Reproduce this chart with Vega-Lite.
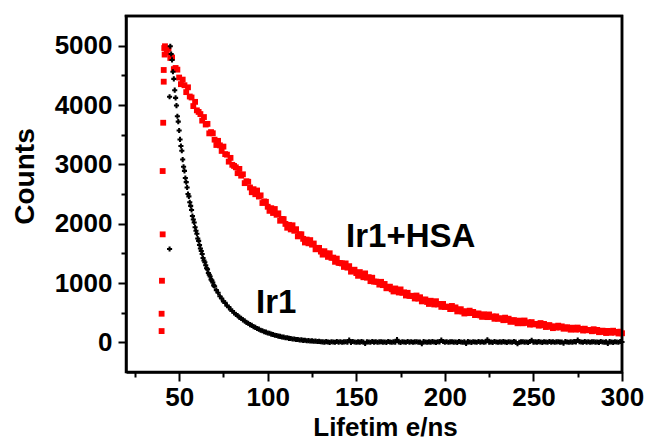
{
  "$schema": "https://vega.github.io/schema/vega-lite/v6.json",
  "autosize": {"type": "none"},
  "width": 496,
  "height": 356,
  "padding": {"left": 126, "top": 16, "right": 27, "bottom": 69},
  "background": "white",
  "config": {
    "view": {"stroke": "black", "strokeWidth": 2.5},
    "font": "Liberation Sans",
    "axis": {
      "domainColor": "black", "domainWidth": 2.5,
      "tickColor": "black", "tickWidth": 2,
      "labelFont": "Liberation Sans", "labelFontWeight": "bold", "labelFontSize": 26, "labelColor": "black",
      "titleFont": "Liberation Sans", "titleFontWeight": "bold", "titleColor": "black",
      "grid": false
    }
  },
  "datasets": {
    "hsa": [
      {"t":40.1,"c":190},{"t":40.1,"c":482},{"t":40.3,"c":1038},{"t":40.7,"c":1820},{"t":40.7,"c":2887},{"t":41,"c":3701},{"t":41.3,"c":4393},{"t":41.3,"c":4590},{"t":41.6,"c":4960},{"t":41.8,"c":4850},
      {"t":42,"c":4990},{"t":43,"c":4883},{"t":44,"c":4949},{"t":45,"c":4793},{"t":46,"c":4801},{"t":47,"c":4605},{"t":48,"c":4624},{"t":49,"c":4596},{"t":50,"c":4463},{"t":51,"c":4351},
      {"t":52,"c":4428},{"t":53,"c":4333},{"t":54,"c":4217},{"t":55,"c":4298},{"t":56,"c":4143},{"t":57,"c":4127},{"t":58,"c":3982},{"t":59,"c":4053},{"t":60,"c":3910},{"t":61,"c":3883},
      {"t":62,"c":3847},{"t":63,"c":3737},{"t":64,"c":3797},{"t":65,"c":3671},{"t":66,"c":3682},{"t":67,"c":3522},{"t":68,"c":3543},{"t":69,"c":3524},{"t":70,"c":3416},{"t":71,"c":3326},
      {"t":72,"c":3396},{"t":73,"c":3320},{"t":74,"c":3226},{"t":75,"c":3299},{"t":76,"c":3172},{"t":77,"c":3163},{"t":78,"c":3045},{"t":79,"c":3109},{"t":80,"c":2992},{"t":81,"c":2973},
      {"t":82,"c":2950},{"t":83,"c":2851},{"t":84,"c":2923},{"t":85,"c":2809},{"t":86,"c":2832},{"t":87,"c":2683},{"t":88,"c":2715},{"t":89,"c":2706},{"t":90,"c":2610},{"t":91,"c":2530},
      {"t":92,"c":2581},{"t":93,"c":2496},{"t":94,"c":2559},{"t":95,"c":2457},{"t":96,"c":2477},{"t":97,"c":2348},{"t":98,"c":2375},{"t":99,"c":2368},{"t":100,"c":2285},{"t":101,"c":2216},
      {"t":102,"c":2261},{"t":103,"c":2180},{"t":104,"c":2247},{"t":105,"c":2150},{"t":106,"c":2174},{"t":107,"c":2049},{"t":108,"c":2080},{"t":109,"c":2077},{"t":110,"c":1996},{"t":111,"c":1931},
      {"t":112,"c":1980},{"t":113,"c":1903},{"t":114,"c":1973},{"t":115,"c":1880},{"t":116,"c":1907},{"t":117,"c":1786},{"t":118,"c":1820},{"t":119,"c":1821},{"t":120,"c":1744},{"t":121,"c":1683},
      {"t":122,"c":1732},{"t":123,"c":1669},{"t":124,"c":1723},{"t":125,"c":1646},{"t":126,"c":1666},{"t":127,"c":1568},{"t":128,"c":1593},{"t":129,"c":1591},{"t":130,"c":1529},{"t":131,"c":1478},
      {"t":132,"c":1536},{"t":133,"c":1495},{"t":134,"c":1440},{"t":135,"c":1501},{"t":136,"c":1424},{"t":137,"c":1428},{"t":138,"c":1357},{"t":139,"c":1411},{"t":140,"c":1339},{"t":141,"c":1336},
      {"t":142,"c":1329},{"t":143,"c":1271},{"t":144,"c":1330},{"t":145,"c":1259},{"t":146,"c":1284},{"t":147,"c":1191},{"t":148,"c":1221},{"t":149,"c":1224},{"t":150,"c":1167},{"t":151,"c":1121},
      {"t":152,"c":1184},{"t":153,"c":1147},{"t":154,"c":1097},{"t":155,"c":1162},{"t":156,"c":1090},{"t":157,"c":1098},{"t":158,"c":1031},{"t":159,"c":1089},{"t":160,"c":1023},{"t":161,"c":1024},
      {"t":162,"c":1019},{"t":163,"c":973},{"t":164,"c":1020},{"t":165,"c":964},{"t":166,"c":984},{"t":167,"c":911},{"t":168,"c":935},{"t":169,"c":938},{"t":170,"c":893},{"t":171,"c":857},
      {"t":172,"c":908},{"t":173,"c":879},{"t":174,"c":840},{"t":175,"c":892},{"t":176,"c":835},{"t":177,"c":842},{"t":178,"c":789},{"t":179,"c":835},{"t":180,"c":783},{"t":181,"c":784},
      {"t":182,"c":782},{"t":183,"c":739},{"t":184,"c":789},{"t":185,"c":737},{"t":186,"c":760},{"t":187,"c":690},{"t":188,"c":717},{"t":189,"c":723},{"t":190,"c":680},{"t":191,"c":647},
      {"t":192,"c":701},{"t":193,"c":674},{"t":194,"c":638},{"t":195,"c":693},{"t":196,"c":639},{"t":197,"c":648},{"t":198,"c":598},{"t":199,"c":647},{"t":200,"c":596},{"t":201,"c":600},
      {"t":202,"c":601},{"t":203,"c":560},{"t":204,"c":613},{"t":205,"c":563},{"t":206,"c":589},{"t":207,"c":521},{"t":208,"c":550},{"t":209,"c":558},{"t":210,"c":517},{"t":211,"c":486},
      {"t":212,"c":525},{"t":213,"c":492},{"t":214,"c":534},{"t":215,"c":493},{"t":216,"c":513},{"t":217,"c":459},{"t":218,"c":481},{"t":219,"c":487},{"t":220,"c":454},{"t":221,"c":429},
      {"t":222,"c":473},{"t":223,"c":453},{"t":224,"c":425},{"t":225,"c":470},{"t":226,"c":428},{"t":227,"c":436},{"t":228,"c":397},{"t":229,"c":437},{"t":230,"c":398},{"t":231,"c":402},
      {"t":232,"c":404},{"t":233,"c":373},{"t":234,"c":416},{"t":235,"c":376},{"t":236,"c":398},{"t":237,"c":345},{"t":238,"c":368},{"t":239,"c":375},{"t":240,"c":345},{"t":241,"c":321},
      {"t":242,"c":366},{"t":243,"c":348},{"t":244,"c":321},{"t":245,"c":368},{"t":246,"c":327},{"t":247,"c":337},{"t":248,"c":299},{"t":249,"c":341},{"t":250,"c":302},{"t":251,"c":308},
      {"t":252,"c":311},{"t":253,"c":281},{"t":254,"c":325},{"t":255,"c":287},{"t":256,"c":310},{"t":257,"c":258},{"t":258,"c":282},{"t":259,"c":291},{"t":260,"c":261},{"t":261,"c":239},
      {"t":262,"c":271},{"t":263,"c":249},{"t":264,"c":281},{"t":265,"c":252},{"t":266,"c":269},{"t":267,"c":229},{"t":268,"c":248},{"t":269,"c":254},{"t":270,"c":230},{"t":271,"c":213},
      {"t":272,"c":247},{"t":273,"c":234},{"t":274,"c":214},{"t":275,"c":249},{"t":276,"c":219},{"t":277,"c":227},{"t":278,"c":199},{"t":279,"c":230},{"t":280,"c":203},{"t":281,"c":207},
      {"t":282,"c":209},{"t":283,"c":187},{"t":284,"c":221},{"t":285,"c":192},{"t":286,"c":209},{"t":287,"c":171},{"t":288,"c":190},{"t":289,"c":197},{"t":290,"c":174},{"t":291,"c":157},
      {"t":292,"c":192},{"t":293,"c":180},{"t":294,"c":161},{"t":295,"c":196},{"t":296,"c":167},{"t":297,"c":176},{"t":298,"c":149},{"t":299,"c":180},{"t":300,"c":153}
    ],
    "ir1": [
      {"t":44.6,"c":1572},{"t":44.6,"c":4140},
      {"t":45,"c":4990},{"t":45.5,"c":4860},{"t":46,"c":4760},{"t":46.5,"c":4560},{"t":47,"c":4440},{"t":47.5,"c":4250},{"t":48,"c":4120},{"t":48.5,"c":3990},{"t":49,"c":3810},{"t":49.5,"c":3720},
      {"t":50,"c":3570},{"t":50.5,"c":3420},{"t":51,"c":3310},{"t":51.5,"c":3230},{"t":52,"c":3080},{"t":52.5,"c":2960},{"t":53,"c":2890},{"t":53.5,"c":2770},{"t":54,"c":2700},{"t":54.5,"c":2610},
      {"t":55,"c":2500},{"t":55.5,"c":2460},{"t":56,"c":2360},{"t":56.5,"c":2300},{"t":57,"c":2230},{"t":57.5,"c":2130},{"t":58,"c":2070},{"t":58.5,"c":2020},{"t":59,"c":1940},{"t":59.5,"c":1880},
      {"t":60,"c":1830},{"t":60.5,"c":1750},{"t":61,"c":1710},{"t":61.5,"c":1640},{"t":62,"c":1580},{"t":62.5,"c":1540},{"t":63,"c":1490},{"t":63.5,"c":1420},{"t":64,"c":1380},{"t":64.5,"c":1350},
      {"t":65,"c":1300},{"t":65.5,"c":1250},{"t":66,"c":1230},{"t":66.5,"c":1170},{"t":67,"c":1140},{"t":67.5,"c":1110},{"t":68,"c":1060},{"t":68.5,"c":1040},{"t":69,"c":1010},{"t":69.5,"c":960},
      {"t":70,"c":945},{"t":71,"c":880},{"t":72,"c":835},{"t":73,"c":775},{"t":74,"c":740},{"t":75,"c":690},{"t":76,"c":665},{"t":77,"c":618},{"t":78,"c":595},{"t":79,"c":555},
      {"t":80,"c":528},{"t":81,"c":500},{"t":82,"c":470},{"t":83,"c":452},{"t":84,"c":420},{"t":85,"c":405},{"t":86,"c":378},{"t":87,"c":362},{"t":88,"c":335},{"t":89,"c":322},
      {"t":90,"c":298},{"t":91,"c":286},{"t":92,"c":262},{"t":93,"c":252},{"t":94,"c":233},{"t":95,"c":222},{"t":96,"c":203},{"t":97,"c":196},{"t":98,"c":178},{"t":99,"c":172},
      {"t":100,"c":158},{"t":101,"c":152},{"t":102,"c":138},{"t":103,"c":133},{"t":104,"c":120},{"t":105,"c":116},{"t":106,"c":104},{"t":107,"c":100},{"t":108,"c":90},{"t":109,"c":88},
      {"t":110,"c":78},{"t":111,"c":76},{"t":112,"c":66},{"t":113,"c":65},{"t":114,"c":56},{"t":115,"c":57},{"t":116,"c":48},{"t":117,"c":47},{"t":118,"c":40},{"t":119,"c":41},
      {"t":120,"c":33},{"t":121,"c":35},{"t":122,"c":27},{"t":123,"c":28},{"t":124,"c":22},{"t":125,"c":24},{"t":126,"c":17},{"t":127,"c":20},{"t":128,"c":14},{"t":129,"c":16},
      {"t":130,"c":11},{"t":131,"c":8},{"t":132,"c":3},{"t":133,"c":12},{"t":134,"c":5},{"t":135,"c":0},{"t":136,"c":10},{"t":137,"c":6},{"t":138,"c":2},{"t":139,"c":14},
      {"t":140,"c":4},{"t":141,"c":9},{"t":142,"c":1},{"t":143,"c":7},{"t":144,"c":11},{"t":145,"c":3},{"t":146,"c":40},{"t":147,"c":0},{"t":148,"c":13},{"t":149,"c":6},
      {"t":150,"c":2},{"t":151,"c":8},{"t":152,"c":3},{"t":153,"c":12},{"t":154,"c":5},{"t":155,"c":-20},{"t":156,"c":10},{"t":157,"c":6},{"t":158,"c":2},{"t":159,"c":14},
      {"t":160,"c":4},{"t":161,"c":9},{"t":162,"c":1},{"t":163,"c":7},{"t":164,"c":11},{"t":165,"c":3},{"t":166,"c":5},{"t":167,"c":0},{"t":168,"c":13},{"t":169,"c":6},
      {"t":170,"c":2},{"t":171,"c":8},{"t":172,"c":3},{"t":173,"c":45},{"t":174,"c":5},{"t":175,"c":0},{"t":176,"c":10},{"t":177,"c":6},{"t":178,"c":2},{"t":179,"c":14},
      {"t":180,"c":4},{"t":181,"c":9},{"t":182,"c":1},{"t":183,"c":7},{"t":184,"c":11},{"t":185,"c":3},{"t":186,"c":5},{"t":187,"c":-25},{"t":188,"c":13},{"t":189,"c":6},
      {"t":190,"c":2},{"t":191,"c":8},{"t":192,"c":3},{"t":193,"c":12},{"t":194,"c":5},{"t":195,"c":0},{"t":196,"c":10},{"t":197,"c":6},{"t":198,"c":38},{"t":199,"c":14},
      {"t":200,"c":4},{"t":201,"c":9},{"t":202,"c":1},{"t":203,"c":7},{"t":204,"c":11},{"t":205,"c":3},{"t":206,"c":5},{"t":207,"c":0},{"t":208,"c":13},{"t":209,"c":6},
      {"t":210,"c":2},{"t":211,"c":8},{"t":212,"c":-18},{"t":213,"c":12},{"t":214,"c":5},{"t":215,"c":0},{"t":216,"c":10},{"t":217,"c":6},{"t":218,"c":2},{"t":219,"c":14},
      {"t":220,"c":4},{"t":221,"c":9},{"t":222,"c":1},{"t":223,"c":7},{"t":224,"c":42},{"t":225,"c":3},{"t":226,"c":5},{"t":227,"c":0},{"t":228,"c":13},{"t":229,"c":6},
      {"t":230,"c":2},{"t":231,"c":8},{"t":232,"c":3},{"t":233,"c":12},{"t":234,"c":5},{"t":235,"c":0},{"t":236,"c":10},{"t":237,"c":6},{"t":238,"c":2},{"t":239,"c":14},
      {"t":240,"c":4},{"t":241,"c":-22},{"t":242,"c":1},{"t":243,"c":7},{"t":244,"c":11},{"t":245,"c":3},{"t":246,"c":5},{"t":247,"c":0},{"t":248,"c":13},{"t":249,"c":36},
      {"t":250,"c":2},{"t":251,"c":8},{"t":252,"c":3},{"t":253,"c":12},{"t":254,"c":5},{"t":255,"c":0},{"t":256,"c":10},{"t":257,"c":6},{"t":258,"c":2},{"t":259,"c":14},
      {"t":260,"c":4},{"t":261,"c":9},{"t":262,"c":1},{"t":263,"c":7},{"t":264,"c":11},{"t":265,"c":3},{"t":266,"c":5},{"t":267,"c":-15},{"t":268,"c":13},{"t":269,"c":6},
      {"t":270,"c":2},{"t":271,"c":8},{"t":272,"c":3},{"t":273,"c":12},{"t":274,"c":5},{"t":275,"c":40},{"t":276,"c":10},{"t":277,"c":6},{"t":278,"c":2},{"t":279,"c":14},
      {"t":280,"c":4},{"t":281,"c":9},{"t":282,"c":1},{"t":283,"c":7},{"t":284,"c":11},{"t":285,"c":3},{"t":286,"c":5},{"t":287,"c":0},{"t":288,"c":13},{"t":289,"c":6},
      {"t":290,"c":2},{"t":291,"c":8},{"t":292,"c":-20},{"t":293,"c":12},{"t":294,"c":5},{"t":295,"c":0},{"t":296,"c":10},{"t":297,"c":6},{"t":298,"c":2},{"t":299,"c":14},{"t":300,"c":4}
    ],
    "notes": [
      {"t":144.2,"c":1611,"label":"Ir1+HSA"},
      {"t":93.4,"c":494,"label":"Ir1"}
    ],
    "frame": [
      {"t":20,"c":5500,"k":1},
      {"t":300,"c":5500,"k":2},
      {"t":300,"c":-500,"k":3}
    ]
  },
  "encoding": {
    "x": {
      "field": "t", "type": "quantitative",
      "scale": {"domain": [20, 300], "nice": false, "zero": false},
      "axis": {
        "title": "Lifetim e/ns", "titleFontSize": 26, "titlePadding": 4, "titleX": 259,
        "values": [25, 50, 75, 100, 125, 150, 175, 200, 225, 250, 275, 300],
        "format": "d",
        "labelExpr": "datum.value % 50 === 0 ? datum.label : ''",
        "tickSize": {"condition": {"test": "datum.value % 50 === 0", "value": 9}, "value": 5},
        "labelPadding": 3,
        "labelFlush": false,
        "labelOverlap": false
      }
    },
    "y": {
      "field": "c", "type": "quantitative",
      "scale": {"domain": [-500, 5500], "nice": false, "zero": false},
      "axis": {
        "title": "Counts", "titleFontSize": 28, "titlePadding": 15, "titleY": 160,
        "values": [0, 500, 1000, 1500, 2000, 2500, 3000, 3500, 4000, 4500, 5000],
        "format": "d",
        "labelExpr": "datum.value % 1000 === 0 ? datum.label : ''",
        "tickSize": {"condition": {"test": "datum.value % 1000 === 0", "value": 8}, "value": 5},
        "labelPadding": 6,
        "labelFlush": false,
        "labelOverlap": false
      }
    }
  },
  "layer": [
    {
      "data": {"name": "hsa"},
      "mark": {"type": "point", "shape": "square", "filled": true, "size": 34, "color": "#ff0000", "opacity": 1}
    },
    {
      "data": {"name": "ir1"},
      "mark": {"type": "point", "shape": "cross", "filled": true, "size": 26, "color": "black", "opacity": 1}
    },
    {
      "data": {"name": "notes"},
      "mark": {"type": "text", "align": "left", "baseline": "alphabetic", "font": "Liberation Sans", "fontWeight": "bold", "fontSize": 33, "color": "black"},
      "encoding": {"text": {"field": "label"}}
    },
    {
      "data": {"name": "frame"},
      "mark": {"type": "line", "color": "black", "strokeWidth": 2.5, "strokeCap": "square", "strokeJoin": "miter", "clip": false},
      "encoding": {
        "order": {"field": "k", "type": "quantitative"}
      }
    }
  ]
}
